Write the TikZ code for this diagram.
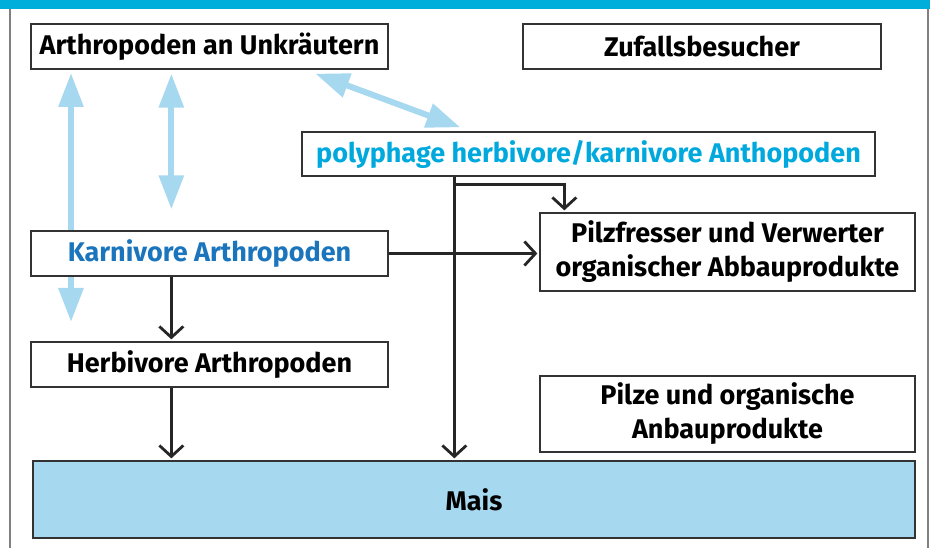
\documentclass[tikz,border=0pt]{standalone}
\usepackage{fontspec}
\setmainfont{Fira Sans}
\usetikzlibrary{arrows.meta}
\definecolor{barcyan}{HTML}{00AEDB}
\definecolor{polycyan}{HTML}{00A9DD}
\definecolor{karniblue}{HTML}{1B75BC}
\definecolor{paleblue}{HTML}{A6D8F0}
\definecolor{boxline}{HTML}{333333}
\tikzset{
  box/.style={shape=rectangle,draw=boxline,line width=1.3pt,fill=white,
    inner sep=0pt,align=center,font=\fontsize{27}{34}\selectfont\bfseries},
  flow/.style={draw=black!85,line width=2.8pt,-{Straight Barb[length=11pt,width=24pt]},shorten >=2pt},
  link/.style={draw=paleblue,line width=6pt,{Triangle[length=34pt,width=24pt]}-{Triangle[length=34pt,width=24pt]}}
}
\begin{document}
\begin{tikzpicture}[x=1pt,y=-1pt]
  \useasboundingbox (0,0) rectangle (930,548);
  % frame
  \fill[barcyan] (0,0) rectangle (930,9);
  \draw[gray,line width=1.5pt] (10,9) -- (10,548);
  \draw[gray,line width=1.5pt] (928,9) -- (928,548);

  % light blue links, drawn first so the boxes cover them
  \coordinate (kend) at (71,322);
  \draw[link] (71,73) -- (kend);

  \node[box,minimum width=357pt,minimum height=45pt] (A) at (209.5,46.5) {Arthropoden an Unkräutern};
  \node[box,minimum width=358pt,minimum height=45pt] (Z) at (702,46.5) {Zufallsbesucher};
  \node[box,minimum width=573pt,minimum height=44pt,text=polycyan] (P) at (588.5,154) {polyphage herbivore/karnivore Anthopoden};
  \node[box,minimum width=357pt,minimum height=45pt,text=karniblue] (K) at (209.5,253.5) {Karnivore Arthropoden};
  \node[box,minimum width=375pt,minimum height=78pt] (F) at (727.5,252) {Pilzfresser und Verwerter\\organischer Abbauprodukte};
  \node[box,minimum width=357pt,minimum height=45pt] (H) at (209.5,364.5) {Herbivore Arthropoden};
  \node[box,minimum width=375pt,minimum height=76pt] (O) at (727.5,414) {Pilze und organische\\Anbauprodukte};
  \node[box,minimum width=882pt,minimum height=77pt,fill=paleblue] (M) at (474,499.5) {Mais};

  \draw[link] ([xshift=141pt,yshift=-4pt]A.south west) -- ([xshift=141pt,yshift=21pt]K.north west);
  \draw[link] ([xshift=285pt,yshift=-4pt]A.south west) -- ([xshift=159pt,yshift=4pt]P.north west);

  % black flows
  \draw[flow] ([xshift=141pt]K.south west) -- ([xshift=141pt]H.north west);
  \draw[flow] ([xshift=141pt]H.south west) -- ([xshift=141pt]H.south west |- M.north);
  \coordinate (branch) at ([xshift=153pt,yshift=-8pt]P.south west);
  \draw[flow] ([xshift=153pt]P.south west) -- ([xshift=153pt]P.south west |- M.north);
  \draw[flow] (branch) -| ([xshift=25pt]F.north west);
  \draw[flow] (K.east) -- (K.east -| F.west);
\end{tikzpicture}
\end{document}
